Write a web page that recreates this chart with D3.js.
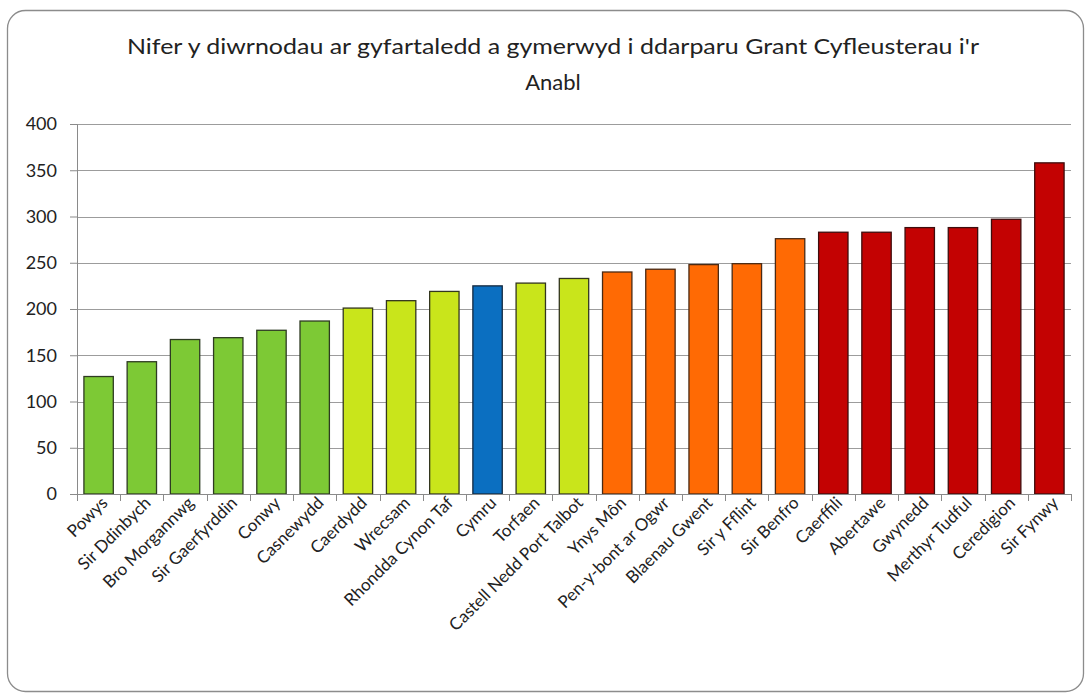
<!DOCTYPE html>
<html>
<head>
<meta charset="utf-8">
<script src="https://cdn.jsdelivr.net/npm/d3@7"></script>
<style>
  body { margin: 0; background: #fff; }
  text { font-family: Lato, "Open Sans", sans-serif; fill: #222; }
</style>
</head>
<body>
<script>
// Data
var titleLines = ["Nifer y diwrnodau ar gyfartaledd a gymerwyd i ddarparu Grant Cyfleusterau i'r", "Anabl"];
var areas = ["Powys", "Sir Ddinbych", "Bro Morgannwg", "Sir Gaerfyrddin", "Conwy", "Casnewydd",
  "Caerdydd", "Wrecsam", "Rhondda Cynon Taf", "Cymru", "Torfaen", "Castell Nedd Port Talbot",
  "Ynys Môn", "Pen-y-bont ar Ogwr", "Blaenau Gwent", "Sir y Fflint", "Sir Benfro",
  "Caerffili", "Abertawe", "Gwynedd", "Merthyr Tudful", "Ceredigion", "Sir Fynwy"];
var days = [127, 143, 167, 169, 177, 187, 201, 209, 219, 225, 228, 233,
  240, 243, 248, 249, 276, 283, 283, 288, 288, 297, 358];
var bands = ["q1", "q1", "q1", "q1", "q1", "q1", "q2", "q2", "q2", "wales", "q2", "q2",
  "q3", "q3", "q3", "q3", "q3", "q4", "q4", "q4", "q4", "q4", "q4"];
var yTicks = [0, 50, 100, 150, 200, 250, 300, 350, 400];

var bandColor = { q1: "#7dc935", q2: "#c9e51b", wales: "#0b6fc1", q3: "#ff6a04", q4: "#c30202" };
var bandStroke = { q1: "#2e3b22", q2: "#33361e", wales: "#152a40", q3: "#4a2a14", q4: "#3e0d0d" };

var svgWidth = 1088, svgHeight = 700;
var margin = { top: 124, left: 77, right: 17, bottom: 206 };
var width = svgWidth - margin.left - margin.right;
var height = svgHeight - margin.top - margin.bottom;

var svg = d3.select("body").append("svg")
  .attr("width", svgWidth)
  .attr("height", svgHeight);

// Chart border
svg.append("rect")
  .attr("x", 7.5).attr("y", 10.5)
  .attr("width", 1076).attr("height", 681)
  .attr("rx", 18)
  .attr("fill", "#fff")
  .attr("stroke", "#8c8c8c")
  .attr("stroke-width", 1.3);

// Title
svg.append("text")
  .attr("x", 553).attr("y", 54)
  .attr("text-anchor", "middle")
  .attr("font-size", 22)
  .attr("textLength", 852)
  .attr("lengthAdjust", "spacingAndGlyphs")
  .text(titleLines[0]);
svg.append("text")
  .attr("x", 553).attr("y", 90)
  .attr("text-anchor", "middle")
  .attr("font-size", 22)
  .text(titleLines[1]);

var chartGroup = svg.append("g")
  .attr("transform", `translate(${margin.left}, ${margin.top})`);

var xScale = d3.scaleBand().domain(areas).range([0, width]).paddingInner(0.32).paddingOuter(0.16);
var yScale = d3.scaleLinear().domain([0, 400]).range([height, 0]);

// Gridlines
chartGroup.append("g")
  .selectAll("line")
  .data(yTicks.filter(d => d > 0))
  .enter().append("line")
  .attr("x1", 0).attr("x2", width)
  .attr("y1", d => Math.round(yScale(d)) + 0.5)
  .attr("y2", d => Math.round(yScale(d)) + 0.5)
  .attr("stroke", "#9c9c9c")
  .attr("stroke-width", 1.2);

// Y axis
var yAxis = d3.axisLeft(yScale).tickValues(yTicks).tickSize(7).tickPadding(13);
var yG = chartGroup.append("g").attr("class", "y-axis").call(yAxis);
yG.select(".domain").attr("stroke", "#8a8a8a");
yG.selectAll(".tick line").attr("stroke", "#8a8a8a");
yG.selectAll(".tick text").attr("font-size", 18).attr("fill", "#222")
  .style("font-family", "Lato, 'Open Sans', sans-serif");

// Bars
var idx = d3.range(areas.length);
chartGroup.selectAll(".bar")
  .data(idx)
  .enter().append("rect")
  .attr("class", "bar")
  .attr("x", i => xScale(areas[i]))
  .attr("y", i => yScale(days[i]))
  .attr("width", xScale.bandwidth())
  .attr("height", i => height - yScale(days[i]))
  .attr("fill", i => bandColor[bands[i]])
  .attr("stroke", i => bandStroke[bands[i]])
  .attr("stroke-width", 1.3);

// X axis line and ticks between categories
var xG = chartGroup.append("g").attr("transform", `translate(0, ${height})`);
xG.append("line")
  .attr("x1", 0).attr("x2", width)
  .attr("y1", 0.5).attr("y2", 0.5)
  .attr("stroke", "#8a8a8a").attr("stroke-width", 1.2);
xG.selectAll(".xtick")
  .data(d3.range(areas.length + 1))
  .enter().append("line")
  .attr("class", "xtick")
  .attr("x1", i => Math.round(i * width / areas.length) + 0.5)
  .attr("x2", i => Math.round(i * width / areas.length) + 0.5)
  .attr("y1", 0).attr("y2", 7)
  .attr("stroke", "#8a8a8a");

// X labels rotated
xG.selectAll(".xlabel")
  .data(areas)
  .enter().append("text")
  .attr("class", "xlabel")
  .attr("font-size", 17)
  .attr("text-anchor", "end")
  .attr("transform", d => `translate(${xScale(d) + xScale.bandwidth() / 2 + 10}, 10) rotate(-45)`)
  .text(d => d);
</script>
</body>
</html>
